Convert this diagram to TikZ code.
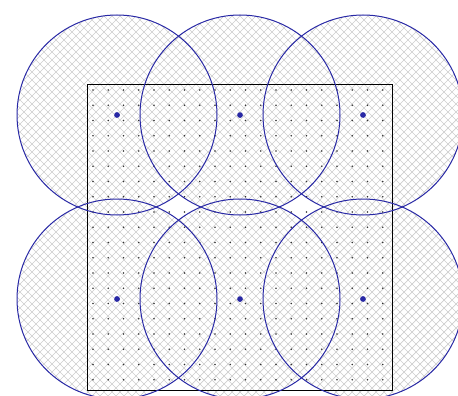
\documentclass[tikz,border=0pt]{standalone}
\usepackage{xcolor}
\usepackage{tikz}
\usetikzlibrary{positioning,calc}

\definecolor{rangeblue}{RGB}{40,40,165}
\definecolor{hatchgray}{RGB}{205,205,205}

\begin{document}
\begin{tikzpicture}[x=1pt, y=-1pt,
    sensor/.style={circle, fill=rangeblue, inner sep=0pt, minimum size=5.5pt},
    sensrange/.style={draw=rangeblue, line width=1pt},
    hatchline/.style={draw=hatchgray, line width=0.7pt}]
    \useasboundingbox (0,0) rectangle (458,396);

    % sensors
    \node [sensor] (s1) at (117,115) {};
    \node [sensor] (s2) at (240,115) {};
    \node [sensor] (s3) at (363,115) {};
    \node [sensor] (s4) at (117,299) {};
    \node [sensor] (s5) at (240,299) {};
    \node [sensor] (s6) at (363,299) {};

    % covered area, cross-hatched
    \begin{scope}
        \clip (s1.center) circle (100pt) (s2.center) circle (100pt) (s3.center) circle (100pt)
              (s4.center) circle (100pt) (s5.center) circle (100pt) (s6.center) circle (100pt);
        \foreach \c in {-400,-392,...,864} {
            \draw [hatchline] (\c,0) -- (\c+400,400);
            \draw [hatchline] (\c,0) -- (\c-400,400);
        }
    \end{scope}

    % grid points of the field
    \foreach \i in {0,...,19}
        \foreach \j in {0,...,19}
            \fill [black!80] (93+\i*15.25, 90+\j*15.25) circle (0.8pt);

    % field
    \draw [line width=1pt] (87,85) rectangle (392,390);

    % sensing ranges
    \foreach \n in {s1,s2,s3,s4,s5,s6}
        \draw [sensrange] (\n.center) circle (100pt);
    \foreach \n in {s1,s2,s3,s4,s5,s6}
        \node [sensor] at (\n) {};
\end{tikzpicture}
\end{document}
